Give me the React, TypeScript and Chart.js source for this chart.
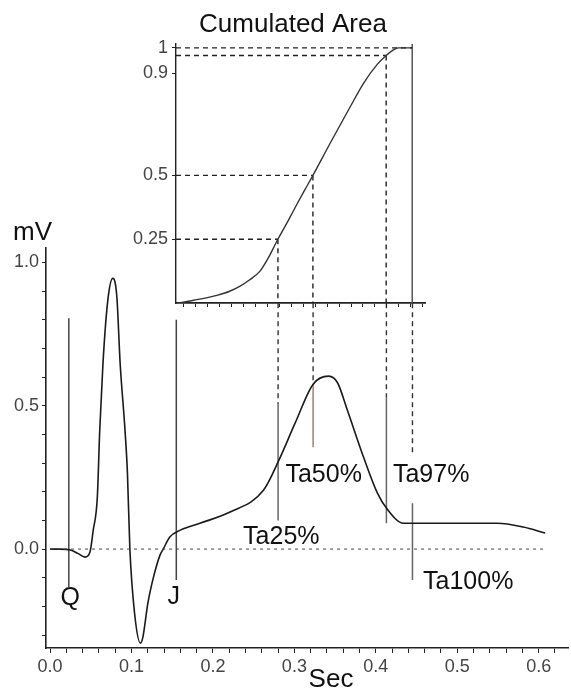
import React, { useEffect, useRef } from 'react';
import { Chart, registerables } from 'chart.js';

Chart.register(...registerables);

const FONT = '"Liberation Sans", Arial, sans-serif';

// ---------- Main ECG chart data ----------
const ECG_SEC = [0.0, 0.012, 0.025, 0.034, 0.043, 0.049, 0.053, 0.058, 0.061, 0.065, 0.071, 0.077, 0.082, 0.086, 0.092, 0.095, 0.098, 0.104, 0.111, 0.114, 0.12, 0.127, 0.135, 0.139, 0.147, 0.16, 0.184, 0.221, 0.262, 0.281, 0.301, 0.323, 0.342, 0.353, 0.365, 0.385, 0.402, 0.413, 0.434, 0.549, 0.581, 0.608];
const ECG_MV = [0, 0, -0.003, -0.015, -0.028, -0.01, 0.066, 0.18, 0.415, 0.65, 0.87, 0.944, 0.88, 0.65, 0.415, 0.265, 0.0, -0.23, -0.328, -0.307, -0.19, -0.098, -0.021, 0.0, 0.042, 0.066, 0.09, 0.129, 0.205, 0.31, 0.44, 0.575, 0.603, 0.58, 0.485, 0.32, 0.195, 0.143, 0.09, 0.09, 0.077, 0.056];

const ZERO_LINE_SEC = [0.0, 0.608];

const Q_SEC = 0.023;
const Q_RANGE = [-0.132, 0.805];
const J_SEC = 0.155;
const J_RANGE = [-0.108, 0.8];

const TA_LABELS = ['Ta25%', 'Ta50%', 'Ta97%', 'Ta100%'];
const TA_SEC = [0.28, 0.323, 0.413, 0.445];
const TA_LEVEL = [0.25, 0.5, 0.97, 1];
const TA_DASH_TOP = 0.857;
const TA_DASH_BOTTOM = [0.505, 0.571, 0.53, 0.338];
const TA_SOLID_TOP = [0.505, 0.571, 0.53, 0.16];
const TA_SOLID_BOTTOM = [0.1, 0.355, 0.09, -0.108];
const TA_SOLID_COLORS = ['#666666', '#a08078', '#666666', '#666666'];
const TA_LABEL_SEC = [0.237, 0.289, 0.421, 0.458];
const TA_LABEL_MV = [0.042, 0.258, 0.258, -0.115];

const POINT_LABELS = ['Q', 'J'];
const POINT_LABEL_SEC = [0.0246, 0.152];
const POINT_LABEL_MV = [-0.171, -0.167];

const X_TICKS = [0, 0.02, 0.04, 0.06, 0.08, 0.1, 0.12, 0.14, 0.16, 0.18, 0.2, 0.22, 0.24, 0.26, 0.28, 0.3, 0.32, 0.34, 0.36, 0.38, 0.4, 0.42, 0.44, 0.46, 0.48, 0.5, 0.52, 0.54, 0.56, 0.58, 0.6, 0.62];
const X_LABELED = [0, 0.1, 0.2, 0.3, 0.4, 0.5, 0.6];
const Y_TICKS = [-0.3, -0.2, -0.1, 0, 0.1, 0.2, 0.3, 0.4, 0.5, 0.6, 0.7, 0.8, 0.9, 1.0];
const Y_LABELED = [0, 0.5, 1.0];

// ---------- Inset (Cumulated Area) data ----------
const CUM_SEC = [0.158, 0.17, 0.184, 0.205, 0.22, 0.233, 0.245, 0.258, 0.267, 0.28, 0.293, 0.303, 0.313, 0.323, 0.344, 0.369, 0.385, 0.402, 0.413, 0.421, 0.428, 0.445];
const CUM_AREA = [0, 0.007, 0.015, 0.03, 0.045, 0.065, 0.09, 0.125, 0.17, 0.25, 0.325, 0.385, 0.443, 0.5, 0.625, 0.77, 0.86, 0.935, 0.97, 0.99, 1.0, 1.0];
const INSET_Y_TICKS = [0.25, 0.5, 0.9, 1];
const INSET_Y_LABELS = ['0.25', '0.5', '0.9', '1'];
const INSET_X_TICKS = [0.164, 0.1787, 0.1934, 0.2081, 0.2228, 0.2375, 0.2522, 0.2669, 0.2816, 0.2963, 0.311, 0.3257, 0.3404, 0.3551, 0.3698, 0.3845, 0.3992, 0.4139, 0.4286, 0.4433, 0.458];

const near = (a: number, list: number[]) => list.some((v) => Math.abs(v - a) < 1e-6);

function seg(x1: number, y1: number, x2: number, y2: number, color: string, dash: number[], width = 1.4) {
  return {
    data: [{ x: x1, y: y1 }, { x: x2, y: y2 }],
    borderColor: color,
    borderWidth: width,
    borderDash: dash,
    pointRadius: 0,
    fill: false,
    tension: 0,
  };
}

const DASH = [5, 4];

export default function App() {
  const mainRef = useRef<HTMLCanvasElement | null>(null);
  const insetRef = useRef<HTMLCanvasElement | null>(null);

  useEffect(() => {
    if (!mainRef.current || !insetRef.current) return;

    const mainDatasets: any[] = [
      seg(ZERO_LINE_SEC[0], 0, ZERO_LINE_SEC[1], 0, '#444444', [3, 4], 1),
      {
        data: ECG_SEC.map((s, i) => ({ x: s, y: ECG_MV[i] })),
        borderColor: '#1a1a1a',
        borderWidth: 1.6,
        pointRadius: 0,
        fill: false,
        cubicInterpolationMode: 'monotone',
      },
      seg(Q_SEC, Q_RANGE[0], Q_SEC, Q_RANGE[1], '#444444', [], 1.5),
      seg(J_SEC, J_RANGE[0], J_SEC, J_RANGE[1], '#444444', [], 1.5),
    ];
    TA_SEC.forEach((s, i) => {
      mainDatasets.push(seg(s, TA_DASH_TOP, s, TA_DASH_BOTTOM[i], '#333333', DASH, 1.4));
      mainDatasets.push(seg(s, TA_SOLID_TOP[i], s, TA_SOLID_BOTTOM[i], TA_SOLID_COLORS[i], [], 1.5));
    });

    const mainText = {
      id: 'mainText',
      afterDraw(chart: any) {
        const ctx = chart.ctx;
        const xs = chart.scales.x;
        const ys = chart.scales.y;
        ctx.save();
        ctx.fillStyle = '#111';
        ctx.textBaseline = 'middle';
        ctx.font = `25px ${FONT}`;
        ctx.textAlign = 'left';
        TA_LABELS.forEach((t, i) => {
          ctx.fillText(t, xs.getPixelForValue(TA_LABEL_SEC[i]), ys.getPixelForValue(TA_LABEL_MV[i]));
        });
        ctx.textAlign = 'center';
        POINT_LABELS.forEach((t, i) => {
          ctx.fillText(t, xs.getPixelForValue(POINT_LABEL_SEC[i]), ys.getPixelForValue(POINT_LABEL_MV[i]));
        });
        ctx.font = `26px ${FONT}`;
        ctx.textAlign = 'left';
        ctx.textBaseline = 'alphabetic';
        ctx.fillText('mV', 13, 240);
        ctx.textAlign = 'center';
        ctx.fillText('Sec', 331, 687);
        ctx.restore();
      },
    };

    const tickFont = { family: FONT, size: 18 };

    const main = new Chart(mainRef.current, {
      type: 'line',
      data: { datasets: mainDatasets },
      options: {
        animation: false,
        responsive: false,
        maintainAspectRatio: false,
        events: [],
        layout: { padding: { top: 248, right: 3, left: 0, bottom: 0 } },
        plugins: { legend: { display: false }, tooltip: { enabled: false }, title: { display: false } },
        scales: {
          x: {
            type: 'linear',
            min: -0.005,
            max: 0.636,
            afterBuildTicks: (s: any) => {
              s.ticks = X_TICKS.map((v) => ({ value: v }));
            },
            afterFit: (s: any) => {
              s.height = 44;
            },
            ticks: {
              autoSkip: false,
              maxRotation: 0,
              padding: 3,
              color: '#444',
              font: tickFont,
              callback: (v: any) => (near(Number(v), X_LABELED) ? Number(v).toFixed(1) : ''),
            },
            grid: { drawOnChartArea: false, drawTicks: true, tickLength: 5, color: '#222', lineWidth: 1 },
            border: { display: true, color: '#222', width: 1.6 },
          },
          y: {
            type: 'linear',
            min: -0.345,
            max: 1.05,
            afterBuildTicks: (s: any) => {
              s.ticks = Y_TICKS.map((v) => ({ value: v }));
            },
            afterFit: (s: any) => {
              s.width = 46;
            },
            ticks: {
              autoSkip: false,
              padding: 3,
              color: '#444',
              font: tickFont,
              callback: (v: any) => (near(Number(v), Y_LABELED) ? Number(v).toFixed(1) : ''),
            },
            grid: { drawOnChartArea: false, drawTicks: true, tickLength: 4, color: '#222', lineWidth: 1 },
            border: { display: true, color: '#222', width: 1.6 },
          },
        },
      } as any,
      plugins: [mainText],
    } as any);

    // ---------- Inset ----------
    const insetDatasets: any[] = [
      {
        data: CUM_SEC.map((s, i) => ({ x: s, y: CUM_AREA[i] })),
        borderColor: '#333333',
        borderWidth: 1.4,
        pointRadius: 0,
        fill: false,
        cubicInterpolationMode: 'monotone',
      },
    ];
    TA_SEC.forEach((s, i) => {
      insetDatasets.push(seg(0.1548, TA_LEVEL[i], s, TA_LEVEL[i], '#222222', DASH, 1.4));
      if (i < 3) {
        insetDatasets.push(seg(s, TA_LEVEL[i], s, 0, '#222222', DASH, 1.4));
      } else {
        insetDatasets.push(seg(s, 0, s, 1.015, '#555555', [], 1.5));
      }
    });

    const insetText = {
      id: 'insetText',
      afterDraw(chart: any) {
        const ctx = chart.ctx;
        ctx.save();
        ctx.fillStyle = '#111';
        ctx.font = `26px ${FONT}`;
        ctx.textAlign = 'center';
        ctx.textBaseline = 'middle';
        ctx.fillText('Cumulated Area', 293, 25);
        ctx.restore();
      },
    };

    const inset = new Chart(insetRef.current, {
      type: 'line',
      data: { datasets: insetDatasets },
      options: {
        animation: false,
        responsive: false,
        maintainAspectRatio: false,
        events: [],
        layout: { padding: { top: 44, right: 146, left: 116, bottom: 379 } },
        plugins: { legend: { display: false }, tooltip: { enabled: false }, title: { display: false } },
        scales: {
          x: {
            type: 'linear',
            min: 0.1548,
            max: 0.4607,
            afterBuildTicks: (s: any) => {
              s.ticks = INSET_X_TICKS.map((v) => ({ value: v }));
            },
            afterFit: (s: any) => {
              s.height = 10;
            },
            ticks: { display: false, autoSkip: false },
            grid: { drawOnChartArea: false, drawTicks: true, tickLength: 4, color: '#222', lineWidth: 1 },
            border: { display: true, color: '#222', width: 1.8 },
          },
          y: {
            type: 'linear',
            min: 0,
            max: 1.015,
            afterBuildTicks: (s: any) => {
              s.ticks = INSET_Y_TICKS.map((v) => ({ value: v }));
            },
            afterFit: (s: any) => {
              s.width = 60;
            },
            ticks: {
              autoSkip: false,
              padding: 4,
              color: '#444',
              font: tickFont,
              callback: (v: any) => {
                const idx = INSET_Y_TICKS.findIndex((t) => Math.abs(t - Number(v)) < 1e-6);
                return idx >= 0 ? INSET_Y_LABELS[idx] : '';
              },
            },
            grid: { drawOnChartArea: false, drawTicks: true, tickLength: 4, color: '#222', lineWidth: 1 },
            border: { display: true, color: '#222', width: 1.4 },
          },
        },
      } as any,
      plugins: [insetText],
    } as any);

    return () => {
      main.destroy();
      inset.destroy();
    };
  }, []);

  const canvasStyle: React.CSSProperties = { position: 'absolute', left: 0, top: 0, width: 571, height: 692 };
  return (
    <div style={{ position: 'absolute', left: 0, top: 0, width: 571, height: 692, background: '#fff' }}>
      <canvas ref={mainRef} width={571} height={692} style={canvasStyle} />
      <canvas ref={insetRef} width={571} height={692} style={{ ...canvasStyle, pointerEvents: 'none' }} />
    </div>
  );
}
